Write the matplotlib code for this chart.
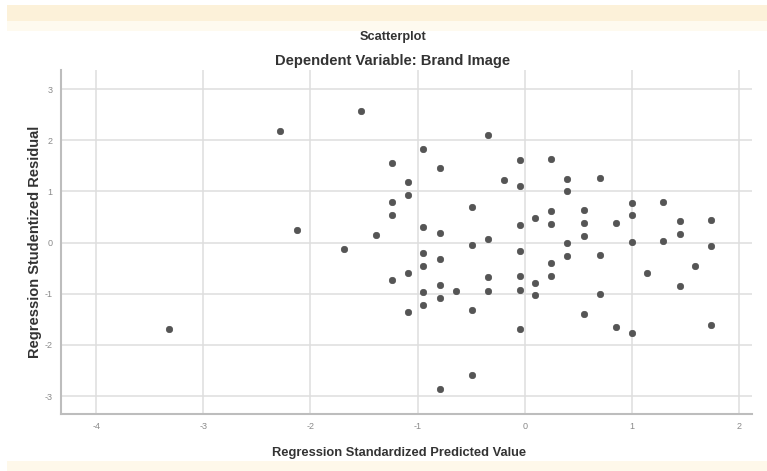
import matplotlib.pyplot as plt
from matplotlib.patches import Rectangle

plt.rcParams['font.family'] = ['Liberation Sans', 'DejaVu Sans']
plt.rcParams['axes.unicode_minus'] = False

# standardized predicted values and studentized residuals
pred = [-3.32, -2.28, -2.13, -1.69, -1.53, -1.39,
        -1.24, -1.24, -1.24, -1.24,
        -1.09, -1.09, -1.09, -1.09,
        -0.945, -0.945, -0.945, -0.945, -0.945, -0.945,
        -0.79, -0.79, -0.79, -0.79, -0.79, -0.79,
        -0.64,
        -0.49, -0.49, -0.49, -0.49,
        -0.345, -0.345, -0.345, -0.345,
        -0.196,
        -0.044, -0.044, -0.044, -0.044, -0.044, -0.044, -0.044,
        0.10, 0.10, 0.10,
        0.25, 0.25, 0.25, 0.25, 0.25,
        0.40, 0.40, 0.40, 0.40,
        0.55, 0.55, 0.55, 0.55,
        0.70, 0.70, 0.70,
        0.85, 0.85,
        1.00, 1.00, 1.00, 1.00,
        1.14,
        1.29, 1.29,
        1.45, 1.45, 1.45,
        1.59,
        1.74, 1.74, 1.74]
resid = [-1.69, 2.19, 0.24, -0.12, 2.57, 0.15,
         1.56, 0.79, 0.54, -0.73,
         1.19, 0.93, -0.59, -1.35,
         1.82, 0.31, -0.20, -0.45, -0.97, -1.22,
         1.45, 0.18, -0.32, -0.83, -1.08, -2.86,
         -0.95,
         0.70, -0.05, -1.32, -2.58,
         2.10, 0.07, -0.68, -0.94,
         1.22,
         1.615, 1.10, 0.35, -0.16, -0.66, -0.92, -1.68,
         0.48, -0.78, -1.03,
         1.63, 0.61, 0.36, -0.40, -0.65,
         1.25, 1.00, -0.01, -0.27,
         0.63, 0.38, 0.12, -1.39,
         1.27, -0.25, -1.01,
         0.39, -1.64,
         0.78, 0.53, 0.02, -1.76,
         -0.60,
         0.79, 0.03,
         0.42, 0.17, -0.85,
         -0.46,
         0.44, -0.07, -1.61]

xticks = [-4, -3, -2, -1, 0, 1, 2]
yticks = [-3, -2, -1, 0, 1, 2, 3]

fig = plt.figure(figsize=(7.67, 4.71), dpi=100)
fig.patch.set_facecolor('white')

# cream bands at top and bottom of the screenshot
fig.patches.append(Rectangle((0.009, 0.955), 0.991, 0.035, transform=fig.transFigure,
                             facecolor='#fcf1d9', edgecolor='none', zorder=0))
fig.patches.append(Rectangle((0.009, 0.935), 0.991, 0.02, transform=fig.transFigure,
                             facecolor='#fefaef', edgecolor='none', zorder=0))
fig.patches.append(Rectangle((0.009, 0.0), 0.991, 0.022, transform=fig.transFigure,
                             facecolor='#fef8ea', edgecolor='none', zorder=0))

ax = fig.add_axes([0.0795, 0.121, 0.9005, 0.730])
ax.scatter(pred, resid, s=22, c='#555555', edgecolors='#444444', linewidths=0.4, zorder=3)

ax.set_xlim(-4.33, 2.12)
ax.set_ylim(-3.35, 3.37)
ax.set_xticks(xticks)
ax.set_yticks(yticks)
ax.tick_params(labelsize=6.5, colors='#8a8a8a', length=0, pad=6)
ax.grid(True, color='#dedede', linewidth=1.1)
ax.set_axisbelow(True)
for side in ['top', 'right']:
    ax.spines[side].set_visible(False)
for side in ['left', 'bottom']:
    ax.spines[side].set_color('#bdbdbd')
    ax.spines[side].set_linewidth(1.5)

ax.set_xlabel('Regression Standardized Predicted Value', fontsize=9.3,
              fontweight='bold', color='#333333', labelpad=12)
ax.xaxis.set_label_coords(0.49, -0.095)
ax.set_ylabel('Regression Studentized Residual', fontsize=10.5,
              fontweight='bold', color='#333333', labelpad=2)

fig.text(0.512, 0.921, 'Scatterplot', ha='center', va='center',
         fontsize=9.2, fontweight='bold', color='#333333')
fig.text(0.512, 0.870, 'Dependent Variable: Brand Image', ha='center', va='center',
         fontsize=10.6, fontweight='bold', color='#333333')

plt.savefig('out.png', dpi=100)
